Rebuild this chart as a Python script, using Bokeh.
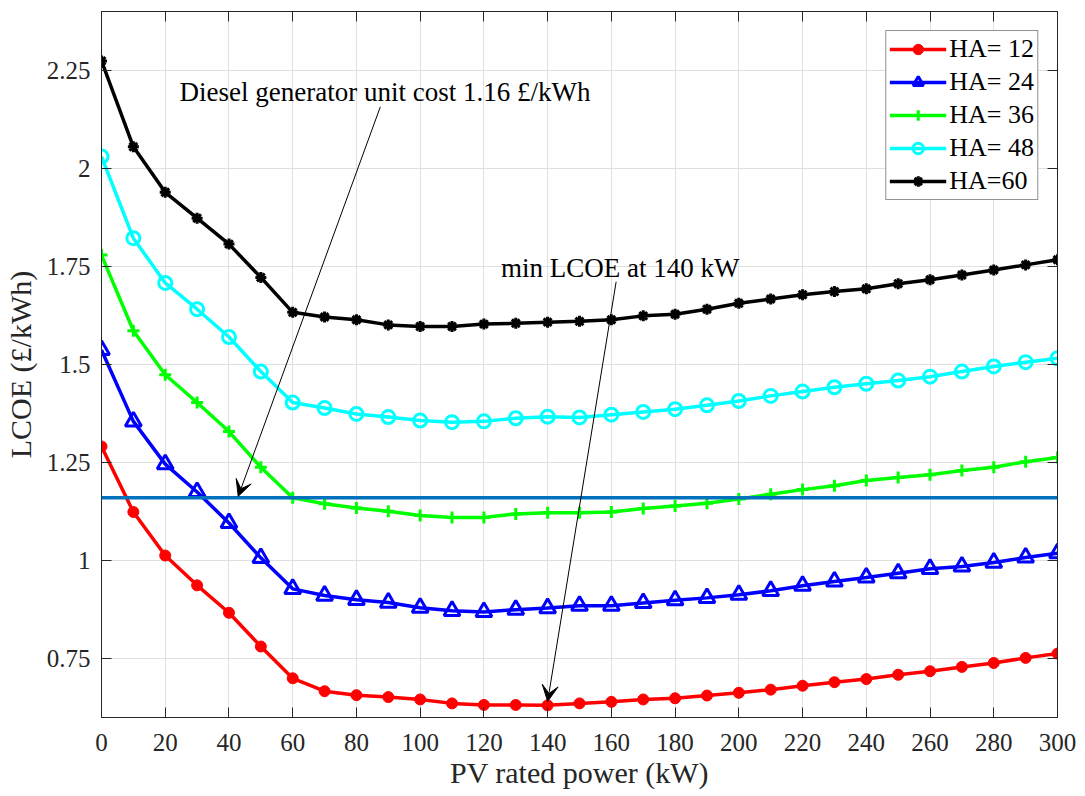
from bokeh.plotting import figure
from bokeh.models import (Range1d, LinearAxis, FixedTicker, NumeralTickFormatter,
                          Span, Arrow, VeeHead, Label, CustomLabelingPolicy)
from bokeh.embed import file_html
from bokeh.resources import INLINE

# ---------------- data ----------------
pv_kw = [0, 10, 20, 30, 40, 50, 60, 70, 80, 90, 100, 110, 120, 130, 140, 150,
         160, 170, 180, 190, 200, 210, 220, 230, 240, 250, 260, 270, 280, 290, 300]

ha12 = [1.291, 1.124, 1.013, 0.937, 0.867, 0.781, 0.700, 0.667, 0.657, 0.652,
        0.646, 0.636, 0.632, 0.632, 0.631, 0.636, 0.640, 0.646, 0.649, 0.656,
        0.663, 0.671, 0.681, 0.690, 0.698, 0.709, 0.718, 0.729, 0.739, 0.752, 0.763]
ha24 = [1.537, 1.355, 1.246, 1.175, 1.096, 1.007, 0.928, 0.911, 0.900, 0.893,
        0.880, 0.872, 0.869, 0.875, 0.879, 0.885, 0.885, 0.892, 0.899, 0.905,
        0.913, 0.923, 0.936, 0.947, 0.957, 0.968, 0.979, 0.985, 0.995, 1.008, 1.019]
ha36 = [1.779, 1.586, 1.474, 1.403, 1.329, 1.238, 1.160, 1.145, 1.134, 1.126,
        1.115, 1.110, 1.110, 1.119, 1.122, 1.122, 1.124, 1.133, 1.139, 1.146,
        1.157, 1.169, 1.181, 1.191, 1.204, 1.212, 1.219, 1.230, 1.238, 1.252, 1.263]
ha48 = [2.030, 1.822, 1.708, 1.641, 1.570, 1.482, 1.403, 1.389, 1.374, 1.366,
        1.357, 1.353, 1.355, 1.363, 1.367, 1.365, 1.372, 1.379, 1.386, 1.396,
        1.407, 1.420, 1.431, 1.442, 1.451, 1.459, 1.469, 1.482, 1.495, 1.506, 1.516]
ha60 = [2.274, 2.055, 1.939, 1.873, 1.807, 1.722, 1.633, 1.621, 1.614, 1.601,
        1.597, 1.597, 1.603, 1.605, 1.608, 1.610, 1.614, 1.624, 1.628, 1.641,
        1.656, 1.667, 1.678, 1.686, 1.693, 1.706, 1.716, 1.728, 1.741, 1.754, 1.767]

series_labels = ["HA= 12", "HA= 24", "HA= 36", "HA= 48", "HA=60"]
diesel_cost = 1.16

x_ticks = [0, 20, 40, 60, 80, 100, 120, 140, 160, 180, 200, 220, 240, 260, 280, 300]
y_ticks = [0.75, 1.0, 1.25, 1.5, 1.75, 2.0, 2.25]

diesel_text = "Diesel generator unit cost 1.16 £/kWh"
diesel_text_pos = (24.5, 2.195)
diesel_arrow = (87.5, 2.157, 42.9, 1.164)
min_text = "min LCOE at 140 kW"
min_text_pos = (125.4, 1.746)
min_arrow = (161.5, 1.711, 140.0, 0.641)

# ---------------- styling ----------------
FONT = "Liberation Serif"
AX = "#262626"

p = figure(frame_width=956, frame_height=706,
           x_range=Range1d(0, 300), y_range=Range1d(0.6, 2.4),
           output_backend="svg", toolbar_location=None,
           min_border_left=93, min_border_top=11, min_border_right=20,
           min_border_bottom=10)
p.background_fill_color = "white"
p.border_fill_color = "white"
p.outline_line_color = AX
p.outline_line_width = 1

xt = FixedTicker(ticks=x_ticks)
yt = FixedTicker(ticks=y_ticks)

p.xaxis.ticker = xt
p.xaxis.axis_label = "PV rated power (kW)"
p.yaxis.ticker = yt
p.yaxis.formatter = NumeralTickFormatter(format="0.[00]")
p.yaxis.axis_label = "LCOE (£/kWh)"

for axs in (p.xaxis, p.yaxis):
    axs.major_label_text_font = FONT
    axs.major_label_text_font_size = "25px"
    axs.major_label_text_color = AX
    axs.axis_label_text_font = FONT
    axs.axis_label_text_font_size = "30px"
    axs.axis_label_text_font_style = "normal"
    axs.axis_label_text_color = AX
    axs.axis_line_color = AX
    axs.major_tick_line_color = AX
    axs.major_tick_in = 10
    axs.major_tick_out = 0
    axs.minor_tick_line_color = None
p.xaxis.major_label_standoff = 16
p.xaxis.axis_label_standoff = 2
p.yaxis.major_label_standoff = 11
p.yaxis.axis_label_standoff = 7

no_labels = CustomLabelingPolicy(code="return new Set()")
for loc, ticker in (("above", xt), ("right", yt)):
    a = LinearAxis(ticker=ticker, major_label_policy=no_labels,
                   major_label_standoff=0, major_tick_in=10, major_tick_out=0,
                   minor_tick_line_color=None, axis_line_color=AX,
                   major_tick_line_color=AX, major_label_text_font=FONT,
                   major_label_text_font_size="1px")
    p.add_layout(a, loc)

p.grid.grid_line_color = "#e0e0e0"
p.grid.grid_line_width = 1
p.xgrid.ticker = xt
p.ygrid.ticker = yt

LW = 3.5
# HA = 12 : red filled circles
p.line(pv_kw, ha12, color="#ff0000", line_width=LW, legend_label=series_labels[0])
p.scatter(pv_kw, ha12, marker="circle", size=11, color="#ff0000",
          legend_label=series_labels[0])
# HA = 24 : blue open triangles
p.line(pv_kw, ha24, color="#0000ff", line_width=LW, legend_label=series_labels[1])
p.scatter(pv_kw, ha24, marker="triangle", size=16, line_color="#0000ff",
          fill_color=None, line_width=3, legend_label=series_labels[1])
# HA = 36 : green plus
p.line(pv_kw, ha36, color="#00ff00", line_width=LW, legend_label=series_labels[2])
p.scatter(pv_kw, ha36, marker="cross", size=12, line_color="#00ff00",
          line_width=3, legend_label=series_labels[2])
# HA = 48 : cyan open circles
p.line(pv_kw, ha48, color="#00ffff", line_width=LW, legend_label=series_labels[3])
p.scatter(pv_kw, ha48, marker="circle", size=13, line_color="#00ffff",
          fill_color=None, line_width=3, legend_label=series_labels[3])
# HA = 60 : black asterisks
p.line(pv_kw, ha60, color="#000000", line_width=LW, legend_label=series_labels[4])
p.scatter(pv_kw, ha60, marker="asterisk", size=11, line_color="#000000",
          line_width=3, legend_label=series_labels[4])

# diesel cost line
p.add_layout(Span(location=diesel_cost, dimension="width",
                  line_color="#0072bd", line_width=3.5))

# annotations
for arr in (diesel_arrow, min_arrow):
    p.add_layout(Arrow(x_start=arr[0], y_start=arr[1], x_end=arr[2], y_end=arr[3],
                       line_color="black", line_width=1,
                       end=VeeHead(size=16, fill_color="black", line_color="black",
                                   line_width=1)))
for txt, pos in ((diesel_text, diesel_text_pos), (min_text, min_text_pos)):
    p.add_layout(Label(x=pos[0], y=pos[1], text=txt,
                       text_font=FONT, text_font_size="27px", text_color="black",
                       text_baseline="middle", text_align="left"))

# legend
lg = p.legend[0]
lg.location = "top_right"
lg.margin = 19
lg.label_text_font = FONT
lg.label_text_font_size = "26px"
lg.label_text_color = "black"
lg.glyph_width = 57
lg.glyph_height = 26
lg.label_height = 26
lg.spacing = 3
lg.padding = 3
lg.label_standoff = 3
lg.border_line_color = AX
lg.border_line_width = 1
lg.background_fill_alpha = 1.0

open("out.html", "w").write(file_html(p, INLINE))
